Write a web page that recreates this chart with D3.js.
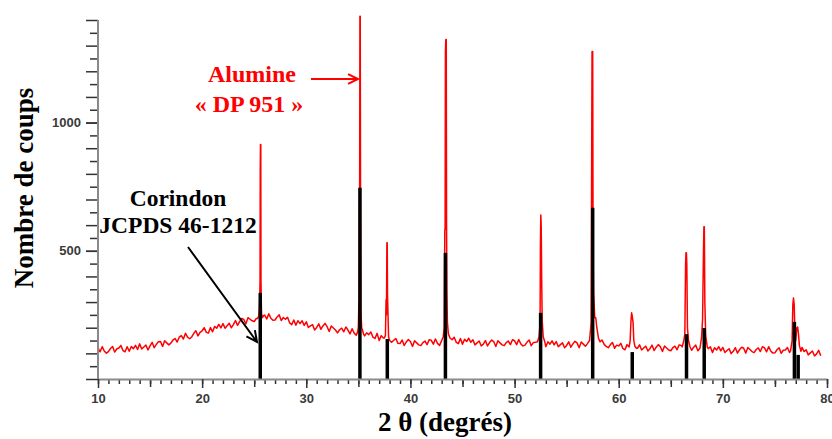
<!DOCTYPE html>
<html><head><meta charset="utf-8">
<script src="https://cdn.jsdelivr.net/npm/d3@7"></script>
<style>body{margin:0;background:#fff}svg{display:block}</style>
</head><body>
<svg id="c" width="832" height="439"></svg>
<script>
// ---- DATA ----
const scanStart = 10.0, scanStep = 0.2;   // 2θ sampling grid of the measured pattern
const scanCounts = [
121,106,126,109,101, 107,119,127,105,117, 121,131,111,106,126, 108,127,118,131,115,
137,117,125,132,113, 129,143,122,135,145, 146,127,149,141,133, 140,152,158,144,163,
169,156,178,163,157, 164,178,188,168,182, 188,200,182,179,201, 184,205,198,213,199,
216,198,208,217,200, 212,228,209,224,236, 232,215,239,233,227, 224,236,242,228,247,
249,234,254,237,229, 230,242,250,228,240, 233,241,219,212,230, 210,227,216,227,209,
223,201,207,212,191, 201,215,194,207,217, 204,185,207,199,191, 180,192,198,184,203,
191,176,196,179,171, 170,182,190,168,180, 173,183,163,158,178, 150,169,160,173,157,
163,143,151,158,139, 138,152,131,144,154, 146,127,149,141,133, 130,142,148,134,153,
151,136,156,139,131, 138,150,158,136,148, 153,163,143,138,158, 136,155,146,159,143,
153,133,141,148,129, 136,150,129,142,152, 146,127,149,141,133, 130,142,148,134,153,
149,134,154,137,129, 132,144,152,130,142, 143,153,133,128,148, 126,145,136,149,133,
146,126,134,141,122, 131,145,124,137,147, 141,122,144,136,128, 125,137,143,129,148,
147,132,152,135,127, 122,134,142,120,132, 129,139,119,114,134, 113,132,123,136,120,
133,113,121,128,109, 118,132,111,124,134, 126,107,129,121,113, 110,122,128,114,133,
131,116,136,119,111, 112,124,132,110,122, 121,131,111,106,126, 103,122,113,126,110,
123,103,111,118,99, 108,122,101,114,124, 120,101,123,115,107, 103,115,121,107,126,
121,106,126,109,101, 102,114,122,100,112, 113,123,103,98,118, 100,119,110,123,107,
114,94,102,109,90, 98,112,91
];
// Diffraction peaks of the measured pattern ([2θ, counts])
const peak25 = [[25.30,236],[25.45,245],[25.52,300],[25.56,380],[25.58,805],[25.60,914],[25.63,914],[25.65,380],[25.70,255],[25.80,240],[25.90,247]];
const peak35 = [[34.90,180],[35.00,200],[35.05,297],[35.08,260],[35.12,600],[35.15,1415],[35.18,1415],[35.21,700],[35.25,260],[35.32,200],[35.40,190],[35.50,175]];
const peak37 = [[37.50,160],[37.60,170],[37.66,309],[37.70,250],[37.74,531],[37.77,531],[37.80,330],[37.84,262],[37.90,165],[38.00,150]];
const peak43 = [[43.00,150],[43.15,165],[43.25,200],[43.30,582],[43.33,582],[43.36,1277],[43.40,1324],[43.44,1324],[43.47,600],[43.50,340],[43.55,220],[43.65,175],[43.80,160]];
const peak52 = [[52.20,145],[52.35,165],[52.45,220],[52.48,512],[52.52,640],[52.56,594],[52.60,400],[52.65,230],[52.75,165],[52.90,145]];
const peak57 = [[57.00,138],[57.20,150],[57.35,219],[57.40,816],[57.44,1277],[57.50,1277],[57.54,500],[57.58,336],[57.70,240],[57.80,238],[57.90,200],[58.05,160],[58.20,145]];
const peak61 = [[61.00,125],[61.10,150],[61.18,230],[61.24,258],[61.30,245],[61.38,220],[61.45,150],[61.55,128],[61.70,120]];
const peak66 = [[66.10,125],[66.25,150],[66.35,175],[66.42,445],[66.46,492],[66.50,492],[66.54,445],[66.60,200],[66.70,150],[66.85,125]];
const peak68 = [[67.80,120],[67.95,160],[68.05,230],[68.08,316],[68.14,500],[68.18,594],[68.22,594],[68.27,300],[68.35,170],[68.50,125],[68.60,118]];
const peak77 = [[76.50,110],[76.65,150],[76.72,290],[76.78,316],[76.85,290],[76.92,180],[77.00,150],[77.10,200],[77.18,203],[77.25,180],[77.35,130],[77.50,108]];
const peakProfiles = [peak25, peak35, peak37, peak43, peak52, peak57, peak61, peak66, peak68, peak77];
// Reference pattern: Corindon JCPDS 46-1212
const stickAngles = [25.58, 35.15, 37.78, 43.36, 52.50, 57.50, 61.30, 66.51, 68.21, 76.87, 77.23];
const stickCounts = [336, 746, 156, 492, 258, 668, 105, 175, 199, 223, 94];
// Axis ticks
const xMajorTicks = [10, 20, 30, 40, 50, 60, 70, 80];
const yLabelTicks = [500, 1000];

// ---- CHART ----
const svg = d3.select("#c");
svg.append("rect").attr("width", 832).attr("height", 439).attr("fill", "#fff");

const x = d3.scaleLinear().domain([10, 80]).range([98, 827]);
const y = d3.scaleLinear().domain([0, 1400]).range([379, 20]);

// measured trace
let pts = scanCounts.map((c, i) => [scanStart + i * scanStep, c]);
peakProfiles.forEach(p => {
  const lo = p[0][0], hi = p[p.length - 1][0];
  pts = pts.filter(d => d[0] < lo - 1e-9 || d[0] > hi + 1e-9);
  pts = pts.concat(p);
});
pts.sort((a, b) => a[0] - b[0]);

svg.append("path").datum(pts)
  .attr("fill", "none").attr("stroke", "#ff0000").attr("stroke-width", 1.5)
  .attr("stroke-linejoin", "round")
  .attr("d", d3.line().x(d => x(d[0])).y(d => y(d[1])));

// sticks
svg.append("g").selectAll("line").data(stickAngles).join("line")
  .attr("x1", d => x(d)).attr("x2", d => x(d))
  .attr("y1", y(0)).attr("y2", (d, i) => y(stickCounts[i]))
  .attr("stroke", "#000").attr("stroke-width", 3.5);

// axes
const axisColor = "#8a8a8a", tickColor = "#333";
function styleAxis(g, keepDomain) {
  if (!keepDomain) g.select(".domain").remove();
  else g.select(".domain").attr("stroke", axisColor).attr("stroke-width", 2);
  g.selectAll(".tick line").attr("stroke", tickColor).attr("stroke-width", 1.5);
}
svg.append("g").attr("transform", `translate(0,${y(0)})`)
  .call(d3.axisBottom(x).tickValues(d3.range(10, 81, 1)).tickSize(5).tickFormat(""))
  .call(g => styleAxis(g, false));
svg.append("g").attr("transform", `translate(0,${y(0)})`)
  .call(d3.axisBottom(x).tickValues(d3.range(15, 80, 10)).tickSize(8).tickFormat(""))
  .call(g => styleAxis(g, false));
svg.append("g").attr("transform", `translate(0,${y(0)})`)
  .call(d3.axisBottom(x).tickValues(xMajorTicks).tickSize(9).tickPadding(6).tickSizeOuter(0).tickFormat(d3.format("d")))
  .call(g => styleAxis(g, true))
  .call(g => g.selectAll("text").attr("font-family", "Liberation Sans, Arial, sans-serif")
     .attr("font-weight", "bold").attr("font-size", 13).attr("fill", "#3a3a3a"));
svg.append("g").attr("transform", `translate(${x(10)},0)`)
  .call(d3.axisLeft(y).tickValues(d3.range(50, 1401, 100)).tickSize(8).tickFormat(""))
  .call(g => styleAxis(g, false));
svg.append("g").attr("transform", `translate(${x(10)},0)`)
  .call(d3.axisLeft(y).tickValues(d3.range(0, 1401, 100)).tickSize(12).tickFormat(""))
  .call(g => styleAxis(g, false));
svg.append("g").attr("transform", `translate(${x(10)},0)`)
  .call(d3.axisLeft(y).tickValues(yLabelTicks).tickSize(12).tickPadding(5).tickSizeOuter(0).tickFormat(d3.format("d")))
  .call(g => g.select(".domain").remove())
  .call(g => g.selectAll(".tick line").attr("stroke", tickColor).attr("stroke-width", 1.5))
  .call(g => g.selectAll("text").attr("font-family", "Liberation Sans, Arial, sans-serif")
     .attr("font-weight", "bold").attr("font-size", 13).attr("fill", "#3a3a3a"));
svg.append("line").attr("x1", x(10)).attr("x2", x(10)).attr("y1", y(0)).attr("y2", y(1400))
  .attr("stroke", axisColor).attr("stroke-width", 2);

// titles
const serif = "Liberation Serif, Times New Roman, serif";
svg.append("text").attr("transform", "translate(33,188) rotate(-90)")
  .attr("text-anchor", "middle").attr("font-family", serif).attr("font-weight", "bold")
  .attr("font-size", 27).attr("fill", "#000").text("Nombre de coups");
svg.append("text").attr("x", 445).attr("y", 431)
  .attr("text-anchor", "middle").attr("font-family", serif).attr("font-weight", "bold")
  .attr("font-size", 27).attr("fill", "#000").text("2 θ (degrés)");

// annotations
svg.append("text").attr("x", 252).attr("y", 82).attr("text-anchor", "middle")
  .attr("font-family", serif).attr("font-weight", "bold").attr("font-size", 24).attr("fill", "#ff0000").text("Alumine");
svg.append("text").attr("x", 249).attr("y", 112).attr("text-anchor", "middle")
  .attr("font-family", serif).attr("font-weight", "bold").attr("font-size", 24).attr("fill", "#ff0000").text("« DP 951 »");
svg.append("text").attr("x", 178).attr("y", 206).attr("text-anchor", "middle")
  .attr("font-family", serif).attr("font-weight", "bold").attr("font-size", 23.5).attr("fill", "#000").text("Corindon");
svg.append("text").attr("x", 178).attr("y", 233).attr("text-anchor", "middle")
  .attr("font-family", serif).attr("font-weight", "bold").attr("font-size", 23.5).attr("fill", "#000").text("JCPDS 46-1212");

function arrow(x1, y1, x2, y2, color, head) {
  const a = Math.atan2(y2 - y1, x2 - x1), w = 0.45;
  const p = d3.path();
  p.moveTo(x1, y1); p.lineTo(x2, y2);
  p.moveTo(x2 - head * Math.cos(a - w), y2 - head * Math.sin(a - w));
  p.lineTo(x2, y2);
  p.lineTo(x2 - head * Math.cos(a + w), y2 - head * Math.sin(a + w));
  svg.append("path").attr("d", p.toString()).attr("fill", "none")
    .attr("stroke", color).attr("stroke-width", 2).attr("stroke-linejoin", "miter");
}
arrow(311, 79, 358, 79, "#ff0000", 11);
arrow(188, 247, 257, 342, "#000", 12);
</script>
</body></html>
